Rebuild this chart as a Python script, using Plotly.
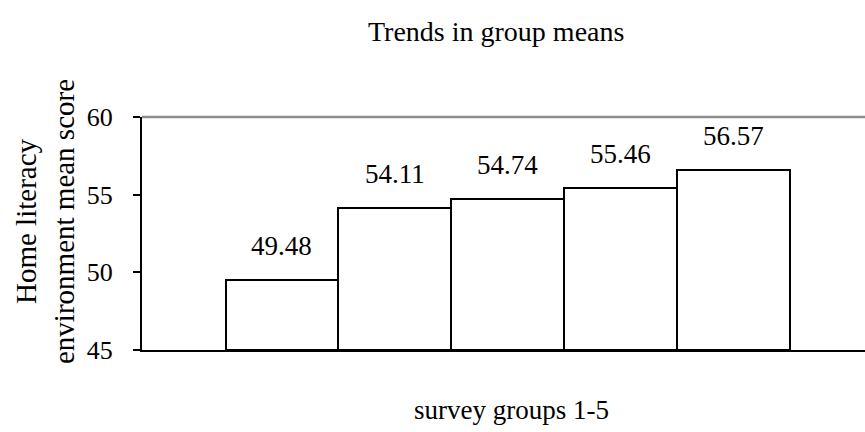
import plotly.graph_objects as go

groups = ["Group 1", "Group 2", "Group 3", "Group 4", "Group 5"]
means = [49.48, 54.11, 54.74, 55.46, 56.57]
y_ticks = [45, 50, 55, 60]

FONT = "Liberation Serif"

fig = go.Figure()
fig.add_trace(go.Bar(
    x=groups, y=[m - 45 for m in means], base=45,
    width=1,
    marker=dict(color="white", line=dict(color="black", width=2)),
    hoverinfo="skip",
))

annotations = []
for i, m in enumerate(means):
    annotations.append(dict(
        x=i, y=m, xref="x", yref="y", text=f"{m:.2f}", showarrow=False,
        yanchor="middle", yshift=34, font=dict(family=FONT, size=27, color="black"),
    ))

annotations.append(dict(
    x=(496 - 142) / 723, y=1 + (117 - 31) / 233, xref="paper", yref="paper",
    text="Trends in group means", showarrow=False, xanchor="center", yanchor="middle",
    font=dict(family=FONT, size=28, color="black"),
))
annotations.append(dict(
    x=(512 - 142) / 723, y=-(410 - 350) / 233, xref="paper", yref="paper",
    text="survey groups 1-5", showarrow=False, xanchor="center", yanchor="middle",
    font=dict(family=FONT, size=27, color="black"),
))
annotations.append(dict(
    x=-(142 - 45) / 723, y=(350 - 222) / 233, xref="paper", yref="paper",
    text="Home literacy<br>environment mean score", showarrow=False,
    xanchor="center", yanchor="middle", textangle=-90,
    font=dict(family=FONT, size=29, color="black"),
))

fig.update_layout(
    width=865, height=432,
    margin=dict(l=142, r=0, t=117, b=82),
    paper_bgcolor="white", plot_bgcolor="white",
    showlegend=False, bargap=0,
    font=dict(family=FONT, size=26, color="black"),
    xaxis=dict(
        type="category", range=[-1.241, 5.169], showticklabels=False,
        ticks="", showgrid=False, zeroline=False,
        showline=True, linecolor="black", linewidth=2,
    ),
    yaxis=dict(
        range=[y_ticks[0], y_ticks[-1]], tickvals=y_ticks, ticks="outside", ticklen=7,
        tickwidth=2, tickcolor="black", showgrid=False, zeroline=False,
        showline=True, linecolor="black", linewidth=2,
        tickfont=dict(family=FONT, size=26, color="black"),
        ticklabelstandoff=15,
    ),
    annotations=annotations,
)

# top frame line along the top of the plot area (axis maximum)
fig.add_shape(type="line", xref="paper", yref="paper", x0=0, x1=1,
              y0=1, y1=1, line=dict(color="#8c8c8c", width=2.5))

fig.write_html("out.html", config={"displayModeBar": False},
               post_script="document.body.style.margin='0';")
